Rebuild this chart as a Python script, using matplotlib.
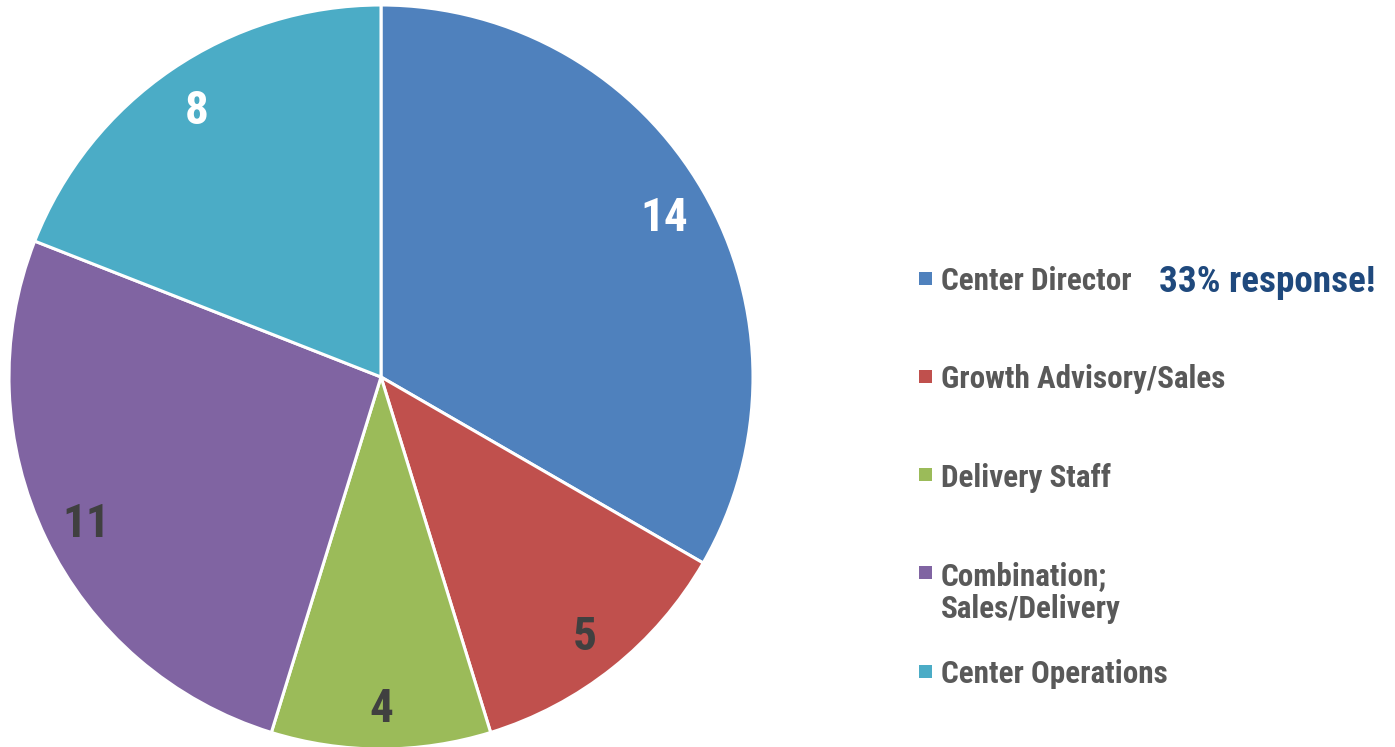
import matplotlib
matplotlib.use("Agg")
import matplotlib.pyplot as plt
from matplotlib.patches import Rectangle
from matplotlib import font_manager

categories = ["Center Director", "Growth Advisory/Sales", "Delivery Staff",
              "Combination;\nSales/Delivery", "Center Operations"]
values = [14, 5, 4, 11, 8]
colors = ["#4F81BD", "#C0504D", "#9BBB59", "#8064A2", "#4BACC6"]
label_colors = ["white", "#404040", "#404040", "#404040", "white"]
note = "33% response!"

names = {f.name for f in font_manager.fontManager.ttflist}
prefs = ["Liberation Sans Narrow", "Arial Narrow", "Roboto Condensed", "Archivo Narrow",
         "PT Sans Narrow", "IBM Plex Sans Condensed", "Liberation Sans"]
fam = [f for f in prefs if f in names][:1]
plt.rcParams["font.family"] = fam + ["DejaVu Sans"]

W, H = 1395, 747
fig = plt.figure(figsize=(W / 100, H / 100), dpi=100)
ax = fig.add_axes([0, 0, 1, 1])

total = sum(values)
wedges, texts, autotexts = ax.pie(
    values, colors=colors, startangle=90, counterclock=False,
    center=(381, H - 377), radius=372, frame=True,
    wedgeprops=dict(edgecolor="white", linewidth=2.2),
    autopct=lambda p: f"{round(p * total / 100)}", pctdistance=0.88,
    textprops=dict(fontsize=34, fontweight="bold"))
for t, c in zip(autotexts, label_colors):
    t.set_color(c)
    t.set_verticalalignment("center_baseline")
ax.set_xlim(0, W)
ax.set_ylim(0, H)
ax.set_aspect("equal")
ax.axis("off")

# manual legend
y0, dy, line_h = 278, 98.3, 33
for i, (lab, col) in enumerate(zip(categories, colors)):
    y = H - (y0 + i * dy)
    ax.add_patch(Rectangle((918.5, y - 6.5), 13, 13, facecolor=col, edgecolor="none"))
    for j, line in enumerate(lab.split("\n")):
        ax.text(941, y - j * line_h, line, fontsize=22.4, fontweight="bold", color="#595959",
                ha="left", va="center_baseline")

ax.text(1159, H - 278, note, fontsize=26.7, fontweight="bold", color="#1F497D",
        ha="left", va="center_baseline")

fig.savefig("out.png", dpi=100)
